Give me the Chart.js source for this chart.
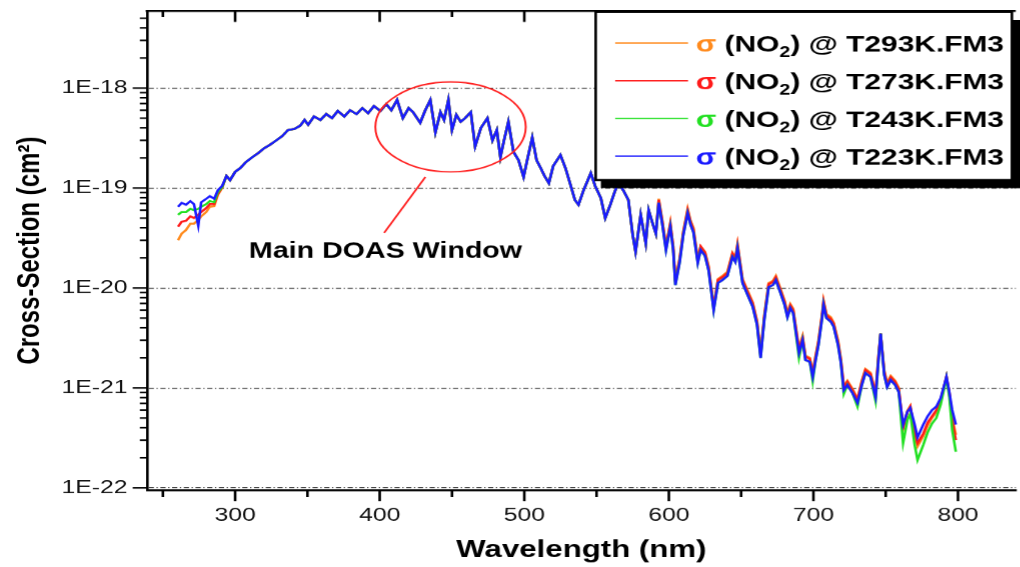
<!DOCTYPE html>
<html>
<head>
<meta charset="utf-8">
<script src="https://cdn.jsdelivr.net/npm/chart.js@4.4.0/dist/chart.umd.min.js"></script>
<style>
html,body{margin:0;padding:0;background:#fff;overflow:hidden}
/* the source figure is horizontally stretched, so draw narrow and stretch */
#wrap{width:785px;height:567px;transform:scaleX(1.3);transform-origin:0 0}
</style>
</head>
<body>
<div id="wrap"><canvas id="c" width="785" height="567"></canvas></div>
<script>
// wavelength (nm), shared by all series
const wavelengths = [
  260.5,263,266,269,271.5,274.5,276.5,280,282.5,285.5,
  288,291,294,296.5,300,303.5,307.5,312,316,320,
  324,328.5,332.5,336.5,341,345,348,350.5,354.5,359,
  363,367,371,375.5,379.5,384,388,392,396,400.5,
  404.5,408,412,416,420,423,428,431.5,435,438.5,
  442,444.5,447.5,450,453,456,459,463,466,470,
  474.5,478,481,483.5,486,489,492.5,496,499.5,502,
  505.5,508.5,511,514,517,520,525,528.5,532,535,
  537.5,541,546,549,553,556,559.5,562.5,565,568.5,
  572,575,577,580.5,584,586,589,591,593,595.5,
  598,601,603,604.5,607.5,610,613,615,617,620,
  622,625,627.5,631,634,637,640.5,644,646,647.5,
  651,654.5,658,661,663.5,666,669,672,674,677,
  680,682,684,686,690,692.5,694.5,697.5,699.5,701.5,
  703.5,706,707,709,712,714,717,719,721,723.5,
  727,730.5,733.5,736,739.5,743,745,746.5,749,751,
  753.5,756.5,759,762,765,767,770,772,776,779,
  782,785,788,790.5,792,794,796,798.5
];

// cross-section (cm^2)
const sigma293 = [
  3.0e-20,3.5e-20,3.8e-20,4.4e-20,4.4e-20,4.8e-20,5.2e-20,5.75e-20,6.5e-20,6.6e-20,
  8.5e-20,1.0e-19,1.32e-19,1.2e-19,1.45e-19,1.58e-19,1.82e-19,2.04e-19,2.24e-19,2.5e-19,
  2.7e-19,3.0e-19,3.3e-19,3.8e-19,3.9e-19,4.2e-19,4.8e-19,4.3e-19,5.2e-19,4.8e-19,
  5.5e-19,5.0e-19,5.9e-19,5.2e-19,6.0e-19,5.5e-19,6.3e-19,5.6e-19,6.6e-19,5.9e-19,
  6.9e-19,6.0e-19,7.6e-19,5.0e-19,6.3e-19,5.75e-19,4.5e-19,6.0e-19,7.6e-19,3.6e-19,
  5.75e-19,4.8e-19,7.6e-19,3.8e-19,5.4e-19,4.6e-19,5.0e-19,5.75e-19,2.6e-19,4.0e-19,
  5.0e-19,3.0e-19,3.8e-19,2.04e-19,3.0e-19,4.6e-19,2.3e-19,1.9e-19,1.29e-19,1.9e-19,
  3.2e-19,1.9e-19,1.62e-19,1.32e-19,1.12e-19,1.66e-19,2.14e-19,1.58e-19,1.07e-19,7.6e-20,
  6.8e-20,9.5e-20,1.41e-19,1.05e-19,7.9e-20,5.0e-20,6.8e-20,9.1e-20,1.12e-19,9.5e-20,
  7.6e-20,3.4e-20,2.3e-20,5.4e-20,2.8e-20,6.0e-20,4.3e-20,3.5e-20,7.8e-20,4.7e-20,
  2.6e-20,4.5e-20,2.6e-20,1.18e-20,2.0e-20,3.7e-20,6.2e-20,4.7e-20,4.0e-20,1.96e-20,
  2.6e-20,2.3e-20,1.65e-20,6.6e-21,1.23e-20,1.32e-20,1.45e-20,2.25e-20,2.0e-20,2.75e-20,
  1.23e-20,9.4e-21,7.2e-21,4.7e-21,2.2e-21,5.3e-21,1.12e-20,1.18e-20,1.32e-20,1.0e-20,
  7.5e-21,5.6e-21,6.9e-21,6.2e-21,2.5e-21,3.3e-21,2.1e-21,2.0e-21,1.42e-21,2.1e-21,
  3.0e-21,5.5e-21,7.5e-21,5.5e-21,5.1e-21,4.5e-21,3.0e-21,1.96e-21,1.05e-21,1.18e-21,
  9.8e-22,7.8e-22,1.18e-21,1.55e-21,1.42e-21,8.9e-22,2.1e-21,3.5e-21,1.5e-21,1.12e-21,
  1.32e-21,1.18e-21,1.0e-21,3.9e-22,5.9e-22,6.6e-22,3.5e-22,2.6e-22,3.3e-22,4.2e-22,
  5.0e-22,5.75e-22,7.4e-22,1.05e-21,1.29e-21,8.9e-22,5.0e-22,3.4e-22
];
const sigma273 = [
  4.1e-20,4.6e-20,4.7e-20,5.2e-20,5.0e-20,5.4e-20,5.75e-20,6.3e-20,6.9e-20,6.9e-20,
  8.7e-20,1.02e-19,1.32e-19,1.2e-19,1.45e-19,1.58e-19,1.82e-19,2.04e-19,2.24e-19,2.5e-19,
  2.7e-19,3.0e-19,3.3e-19,3.8e-19,3.9e-19,4.2e-19,4.8e-19,4.3e-19,5.2e-19,4.8e-19,
  5.5e-19,5.0e-19,5.9e-19,5.2e-19,6.0e-19,5.5e-19,6.3e-19,5.6e-19,6.6e-19,5.9e-19,
  6.9e-19,6.0e-19,7.6e-19,5.0e-19,6.3e-19,5.75e-19,4.5e-19,6.0e-19,7.6e-19,3.6e-19,
  5.75e-19,4.8e-19,7.6e-19,3.8e-19,5.4e-19,4.6e-19,5.0e-19,5.75e-19,2.6e-19,4.0e-19,
  5.0e-19,3.0e-19,3.8e-19,2.04e-19,3.0e-19,4.6e-19,2.3e-19,1.9e-19,1.29e-19,1.9e-19,
  3.2e-19,1.9e-19,1.62e-19,1.32e-19,1.12e-19,1.66e-19,2.14e-19,1.58e-19,1.07e-19,7.6e-20,
  6.8e-20,9.5e-20,1.41e-19,1.05e-19,7.9e-20,5.0e-20,6.8e-20,9.1e-20,1.12e-19,9.5e-20,
  7.6e-20,3.4e-20,2.3e-20,5.4e-20,2.8e-20,6.0e-20,4.3e-20,3.5e-20,7.6e-20,4.6e-20,
  2.6e-20,4.4e-20,2.6e-20,1.15e-20,1.95e-20,3.6e-20,6.0e-20,4.6e-20,3.85e-20,1.9e-20,
  2.6e-20,2.25e-20,1.6e-20,6.4e-21,1.2e-20,1.28e-20,1.41e-20,2.2e-20,1.95e-20,2.7e-20,
  1.2e-20,9.1e-21,7.0e-21,4.6e-21,2.15e-21,5.1e-21,1.09e-20,1.15e-20,1.28e-20,9.7e-21,
  7.3e-21,5.5e-21,6.7e-21,6.0e-21,2.4e-21,3.2e-21,2.05e-21,1.95e-21,1.38e-21,2.05e-21,
  2.9e-21,5.35e-21,7.3e-21,5.35e-21,4.9e-21,4.4e-21,2.9e-21,1.9e-21,1.02e-21,1.15e-21,
  9.5e-22,7.6e-22,1.15e-21,1.51e-21,1.38e-21,8.7e-22,2.05e-21,3.5e-21,1.45e-21,1.09e-21,
  1.28e-21,1.15e-21,9.7e-22,4.0e-22,5.75e-22,6.5e-22,3.6e-22,2.8e-22,3.5e-22,4.5e-22,
  5.2e-22,6.0e-22,7.6e-22,1.05e-21,1.29e-21,8.9e-22,4.8e-22,3.0e-22
];
const sigma243 = [
  5.4e-20,5.75e-20,5.75e-20,6.2e-20,6.0e-20,6.2e-20,6.5e-20,6.9e-20,7.4e-20,7.2e-20,
  9.1e-20,1.02e-19,1.32e-19,1.2e-19,1.45e-19,1.58e-19,1.82e-19,2.04e-19,2.24e-19,2.5e-19,
  2.7e-19,3.0e-19,3.3e-19,3.8e-19,3.9e-19,4.2e-19,4.8e-19,4.3e-19,5.2e-19,4.8e-19,
  5.5e-19,5.0e-19,5.9e-19,5.2e-19,6.0e-19,5.5e-19,6.3e-19,5.6e-19,6.6e-19,5.9e-19,
  6.9e-19,6.0e-19,7.6e-19,5.0e-19,6.3e-19,5.75e-19,4.5e-19,6.0e-19,7.6e-19,3.6e-19,
  5.75e-19,4.8e-19,7.6e-19,3.8e-19,5.4e-19,4.6e-19,5.0e-19,5.75e-19,2.6e-19,4.0e-19,
  5.0e-19,3.0e-19,3.8e-19,2.04e-19,3.0e-19,4.6e-19,2.3e-19,1.9e-19,1.29e-19,1.9e-19,
  3.2e-19,1.9e-19,1.62e-19,1.32e-19,1.12e-19,1.66e-19,2.14e-19,1.58e-19,1.07e-19,7.6e-20,
  6.8e-20,9.5e-20,1.41e-19,1.05e-19,7.9e-20,5.0e-20,6.8e-20,9.1e-20,1.12e-19,9.5e-20,
  7.6e-20,3.4e-20,2.3e-20,5.4e-20,2.8e-20,6.0e-20,4.3e-20,3.5e-20,7.1e-20,4.3e-20,
  2.4e-20,4.1e-20,2.4e-20,1.07e-20,1.82e-20,3.4e-20,5.6e-20,4.3e-20,3.6e-20,1.78e-20,
  2.4e-20,2.1e-20,1.5e-20,6.0e-21,1.12e-20,1.2e-20,1.32e-20,2.04e-20,1.82e-20,2.5e-20,
  1.12e-20,8.5e-21,6.5e-21,4.3e-21,2.0e-21,4.8e-21,1.02e-20,1.07e-20,1.2e-20,9.1e-21,
  6.8e-21,5.1e-21,6.3e-21,5.6e-21,2.0e-21,3.0e-21,1.9e-21,1.82e-21,1.17e-21,1.9e-21,
  2.7e-21,5.0e-21,6.8e-21,5.0e-21,4.6e-21,4.1e-21,2.7e-21,1.78e-21,8.7e-22,1.07e-21,
  8.9e-22,6.5e-22,1.07e-21,1.41e-21,1.29e-21,7.4e-22,1.9e-21,3.5e-21,1.35e-21,1.02e-21,
  1.2e-21,1.07e-21,9.1e-22,2.8e-22,4.8e-22,5.5e-22,2.7e-22,1.9e-22,2.7e-22,3.6e-22,
  4.4e-22,5.0e-22,6.8e-22,1.0e-21,1.26e-21,8.1e-22,3.8e-22,2.3e-22
];
const sigma223 = [
  6.5e-20,7.1e-20,6.8e-20,7.4e-20,6.9e-20,4.2e-20,7.2e-20,7.8e-20,8.3e-20,7.8e-20,
  9.5e-20,1.05e-19,1.32e-19,1.2e-19,1.45e-19,1.58e-19,1.82e-19,2.04e-19,2.24e-19,2.5e-19,
  2.7e-19,3.0e-19,3.3e-19,3.8e-19,3.9e-19,4.2e-19,4.8e-19,4.3e-19,5.2e-19,4.8e-19,
  5.5e-19,5.0e-19,5.9e-19,5.2e-19,6.0e-19,5.5e-19,6.3e-19,5.6e-19,6.6e-19,5.9e-19,
  6.9e-19,6.0e-19,7.6e-19,5.0e-19,6.3e-19,5.75e-19,4.5e-19,6.0e-19,7.6e-19,3.6e-19,
  5.75e-19,4.8e-19,7.6e-19,3.8e-19,5.4e-19,4.6e-19,5.0e-19,5.75e-19,2.6e-19,4.0e-19,
  5.0e-19,3.0e-19,3.8e-19,2.04e-19,3.0e-19,4.6e-19,2.3e-19,1.9e-19,1.29e-19,1.9e-19,
  3.2e-19,1.9e-19,1.62e-19,1.32e-19,1.12e-19,1.66e-19,2.14e-19,1.58e-19,1.07e-19,7.6e-20,
  6.8e-20,9.5e-20,1.41e-19,1.05e-19,7.9e-20,5.0e-20,6.8e-20,9.1e-20,1.12e-19,9.5e-20,
  7.6e-20,3.4e-20,2.3e-20,5.4e-20,2.8e-20,6.0e-20,4.3e-20,3.5e-20,7.1e-20,4.3e-20,
  2.4e-20,4.1e-20,2.4e-20,1.07e-20,1.82e-20,3.4e-20,5.6e-20,4.3e-20,3.6e-20,1.78e-20,
  2.4e-20,2.1e-20,1.5e-20,6.0e-21,1.12e-20,1.2e-20,1.32e-20,2.04e-20,1.82e-20,2.5e-20,
  1.12e-20,8.5e-21,6.5e-21,4.3e-21,2.0e-21,4.8e-21,1.02e-20,1.07e-20,1.2e-20,9.1e-21,
  6.8e-21,5.1e-21,6.3e-21,5.6e-21,2.24e-21,3.0e-21,1.9e-21,1.82e-21,1.29e-21,1.9e-21,
  2.7e-21,5.0e-21,6.8e-21,5.0e-21,4.6e-21,4.1e-21,2.7e-21,1.78e-21,9.5e-22,1.07e-21,
  8.9e-22,7.1e-22,1.07e-21,1.41e-21,1.29e-21,8.1e-22,1.9e-21,3.5e-21,1.35e-21,1.02e-21,
  1.2e-21,1.07e-21,9.1e-22,4.3e-22,5.8e-22,6.3e-22,4.3e-22,3.2e-22,4.3e-22,5.2e-22,
  6.0e-22,6.5e-22,7.9e-22,1.07e-21,1.29e-21,9.1e-22,6.0e-22,4.3e-22
];

const seriesNames = ['T293K.FM3', 'T273K.FM3', 'T243K.FM3', 'T223K.FM3'];
const seriesColors = ['#ff8a1c', '#ff1a1a', '#22e022', '#1a1aff'];
const seriesData = [sigma293, sigma273, sigma243, sigma223];

const xTickValues = [300, 400, 500, 600, 700, 800];
const xMinorTicks = [250, 350, 450, 550, 650, 750, 850];
const yTickValues = [1e-22, 1e-21, 1e-20, 1e-19, 1e-18];
const yTickLabels = ['1E-22', '1E-21', '1E-20', '1E-19', '1E-18'];

// "Main DOAS Window" annotation, in data units
const doasEllipse = {x1: 397, x2: 501, yTop: 1.15e-18, yBottom: 1.45e-19};
const doasPointer = {x1: 431.6, y1: 1.29e-19, x2: 403, y2: 3.55e-20};
const doasText = {x: 404, y: 2.3e-20, text: 'Main DOAS Window'};

const F = "'Liberation Sans', Arial, Helvetica, sans-serif";

const decor = {
  id: 'decor',
  afterDraw(chart) {
    const {ctx, chartArea: a, scales: {x, y}} = chart;
    ctx.save();
    ctx.strokeStyle = '#000';
    ctx.fillStyle = '#000';

    // top frame
    ctx.lineWidth = 2;
    ctx.beginPath();
    ctx.moveTo(a.left - 1, a.top);
    ctx.lineTo(a.right, a.top);
    ctx.stroke();

    // x ticks, outward at the bottom, inward at the top
    const xTick = (v, lb, lt) => {
      const px = x.getPixelForValue(v);
      if (px < a.left || px > a.right) return;
      ctx.beginPath();
      ctx.moveTo(px, a.bottom); ctx.lineTo(px, a.bottom + lb);
      ctx.moveTo(px, a.top); ctx.lineTo(px, a.top + lt);
      ctx.stroke();
    };
    ctx.lineWidth = 2;
    xTickValues.forEach(v => xTick(v, 11, 11));
    xMinorTicks.forEach(v => xTick(v, 7, 6));

    // y ticks on the left, with minor ticks
    ctx.lineWidth = 1.6;
    for (let e = -23; e <= -18; e++) {
      for (let m = 1; m <= 9; m++) {
        const v = m * Math.pow(10, e);
        if (v < y.min || v > y.max) continue;
        const py = y.getPixelForValue(v);
        const len = m === 1 ? 11 : 5.5;
        ctx.beginPath();
        ctx.moveTo(a.left - len, py); ctx.lineTo(a.left, py);
        ctx.stroke();
      }
    }

    // annotation
    const ex1 = x.getPixelForValue(doasEllipse.x1), ex2 = x.getPixelForValue(doasEllipse.x2);
    const ey1 = y.getPixelForValue(doasEllipse.yTop), ey2 = y.getPixelForValue(doasEllipse.yBottom);
    ctx.strokeStyle = '#ff2020';
    ctx.lineWidth = 1.5;
    ctx.beginPath();
    ctx.ellipse((ex1 + ex2) / 2, (ey1 + ey2) / 2, (ex2 - ex1) / 2, (ey2 - ey1) / 2, 0, 0, Math.PI * 2);
    ctx.stroke();
    ctx.beginPath();
    ctx.moveTo(x.getPixelForValue(doasPointer.x1), y.getPixelForValue(doasPointer.y1));
    ctx.lineTo(x.getPixelForValue(doasPointer.x2), y.getPixelForValue(doasPointer.y2));
    ctx.stroke();
    ctx.fillStyle = '#000';
    ctx.font = 'bold 22px ' + F;
    ctx.textAlign = 'center';
    ctx.textBaseline = 'middle';
    ctx.fillText(doasText.text, x.getPixelForValue(doasText.x), y.getPixelForValue(doasText.y));

    // legend box with shadow
    const bx = 458, by = 12, bw = 320, bh = 168;
    ctx.fillStyle = '#000';
    ctx.fillRect(bx + 4, by + bh, 330, 8);
    ctx.fillRect(bx + bw, by + 8, 10, bh);
    ctx.fillStyle = '#fff';
    ctx.fillRect(bx, by, bw, bh);
    ctx.strokeStyle = '#000';
    ctx.lineWidth = 2;
    ctx.strokeRect(bx, by, bw, bh);

    ctx.textAlign = 'left';
    seriesNames.forEach((name, i) => {
      const ly = 43 + i * 37.7;
      const col = seriesColors[i];
      ctx.strokeStyle = col;
      ctx.lineWidth = 1.4;
      ctx.beginPath();
      ctx.moveTo(473, ly); ctx.lineTo(529, ly);
      ctx.stroke();
      let tx = 535;
      const ty = ly + 2;
      ctx.font = 'bold 23px ' + F;
      ctx.fillStyle = col;
      ctx.fillText('\u03c3', tx, ty);
      tx += ctx.measureText('\u03c3 ').width;
      ctx.fillStyle = '#000';
      ctx.fillText('(NO', tx, ty);
      tx += ctx.measureText('(NO').width;
      ctx.font = 'bold 15px ' + F;
      ctx.fillText('2', tx, ty + 8);
      tx += ctx.measureText('2').width;
      ctx.font = 'bold 23px ' + F;
      ctx.fillText(') @ ' + name, tx, ty);
    });
    ctx.restore();
  }
};

// blue drawn on top, orange at the bottom
const datasets = seriesNames.map((name, i) => ({
  label: '\u03c3 (NO2) @ ' + name,
  data: wavelengths.map((w, j) => ({x: w, y: seriesData[i][j]})),
  borderColor: seriesColors[i],
  backgroundColor: seriesColors[i],
  showLine: true,
  pointRadius: 0,
  borderWidth: 2,
  order: 3 - i
}));

new Chart(document.getElementById('c'), {
  type: 'scatter',
  data: {datasets},
  options: {
    responsive: false,
    animation: false,
    devicePixelRatio: 1.3,
    layout: {padding: {top: 11, right: 4, left: 0, bottom: 0}},
    plugins: {legend: {display: false}, tooltip: {enabled: false}},
    scales: {
      x: {
        type: 'linear', min: 239, max: 840,
        afterFit(s) { s.height = 77; s.paddingLeft = 0; s.paddingRight = 0; },
        afterBuildTicks(s) { s.ticks = xTickValues.map(v => ({value: v})); },
        grid: {display: false, drawTicks: false},
        border: {display: true, color: '#000', width: 2},
        ticks: {color: '#111', font: {family: F, size: 19}, padding: 14, autoSkip: false, maxRotation: 0,
                callback: v => String(v)},
        title: {display: true, text: 'Wavelength (nm)', color: '#000',
                font: {family: F, size: 24, weight: 'bold'}, padding: {top: 0, bottom: 2}}
      },
      y: {
        type: 'logarithmic', min: 9.5e-23, max: 5.9e-18,
        afterFit(s) { s.width = 113; s.paddingTop = 0; s.paddingBottom = 0; },
        afterBuildTicks(s) { s.ticks = yTickValues.map(v => ({value: v, major: true})); },
        grid: {display: true, drawTicks: false, color: '#333', lineWidth: 1},
        border: {display: true, color: '#000', width: 2, dash: [4, 2, 1, 2]},
        ticks: {color: '#111', font: {family: F, size: 19}, padding: 15, autoSkip: false,
                callback: (v, i) => yTickLabels[i]},
        title: {display: true, text: 'Cross-Section (cm\u00b2)', color: '#000',
                font: {family: F, size: 24, weight: 'bold'}, padding: {top: 9, bottom: 0}}
      }
    }
  },
  plugins: [decor]
});
</script>
</body>
</html>
